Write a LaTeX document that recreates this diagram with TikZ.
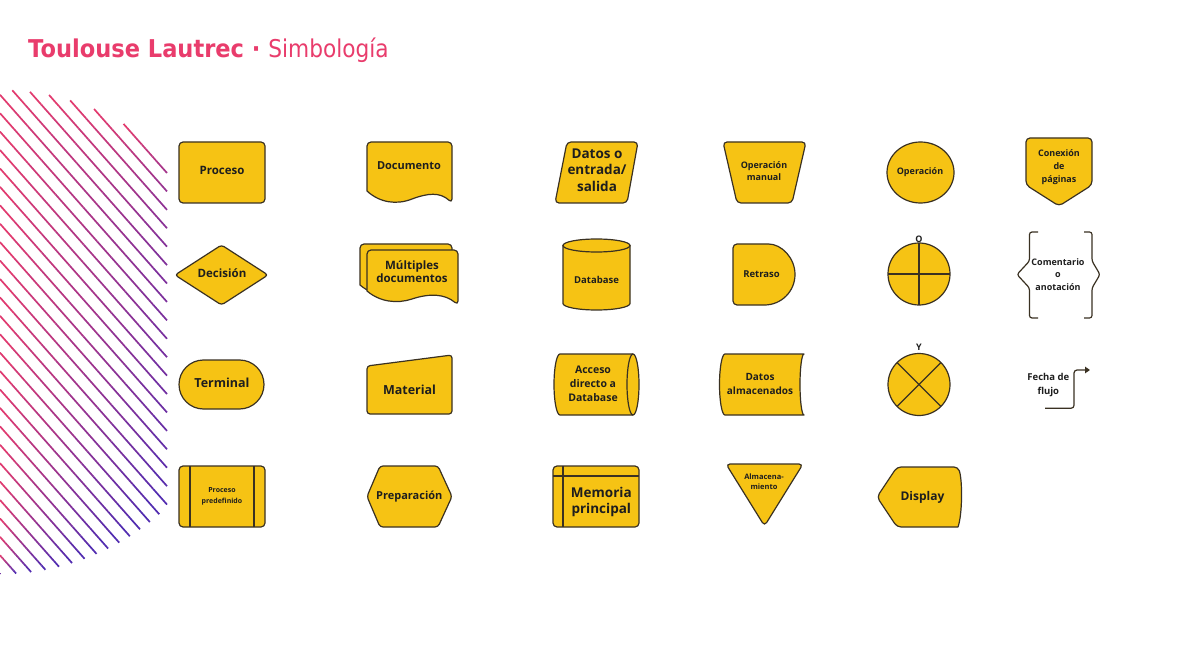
\documentclass[tikz,border=0pt]{standalone}
\usepackage{fontspec}
\usepackage{graphicx}
\setmainfont{Open Sans}
\newfontfamily\titlefont{DejaVu Sans}
\usetikzlibrary{arrows.meta}

\definecolor{symfill}{HTML}{F6C314}
\definecolor{symline}{HTML}{3A3122}
\definecolor{labelcol}{HTML}{1E1E1E}
\definecolor{titlecol}{HTML}{E93C6C}
\definecolor{stripeA}{HTML}{E63B6D}
\definecolor{stripeB}{HTML}{4A2BB3}

\tikzset{
  sym/.style={fill=symfill, draw=symline, line width=1.2pt, line join=round},
  rc/.style={rounded corners=#1}, rc/.default=4pt,
  divider/.style={draw=symline, line width=1.2pt},
  brace/.style={draw=symline, line width=1.2pt, rounded corners=2.5pt},
  flow/.style={draw=symline, line width=1.2pt, rounded corners=3pt,
               -{Triangle[length=5pt,width=6.5pt]}},
  lbl/.style n args={2}{inner sep=0pt, align=center, text=labelcol,
                        font=\bfseries\fontsize{#1}{#2}\selectfont},
  stripe/.style={line width=1.7pt},
}

\begin{document}
\begin{tikzpicture}[x=1pt, y=-1pt]
\fill[white] (0,0) rectangle (1183,660);
\useasboundingbox (0,0) rectangle (1183,660);

% ---- title ----
\node[anchor=base west, inner sep=0pt, text=titlecol,
      font=\titlefont\fontsize{24.5}{28}\selectfont] (title) at (28,58)
  {\scalebox{0.92}[1]{\bfseries Toulouse Lautrec\ ·\ }\scalebox{0.885}[1]{Simbología}};

% ---- striped disc on the left edge ----
% lines y = s (x - a) inside a disc of radius 242 centred at (0,332),
% shown for 0 <= x <= 167; each line fades from pink to purple along
% its chord, measured from its visible start to where it leaves the disc
\def\stS{1.13}
\foreach \i in {0,...,37} {
  \pgfmathsetmacro\stInt{-556.6+\i*16.3}
  \pgfmathsetmacro\stB{(-\stS*\stInt-332)/10}
  \pgfmathsetmacro\stQ{2*\stS*\stB}
  \pgfmathsetmacro\stC{\stB*\stB-24.2*24.2}
  \pgfmathsetmacro\stD{max(\stQ*\stQ-4*2.2769*\stC,0)}
  \pgfmathsetmacro\stX{max(10*(-\stQ-sqrt(\stD))/4.5538,0)}
  \pgfmathsetmacro\stY{10*(-\stQ+sqrt(\stD))/4.5538}
  \pgfmathsetmacro\stE{min(\stY,167)}
  \ifdim\stE pt>\stX pt
    \foreach \k in {0,...,11} {
      \pgfmathsetmacro\stU{\stX+(\stE-\stX)*\k/12}
      \pgfmathsetmacro\stV{\stX+(\stE-\stX)*(\k+1)/12}
      \pgfmathsetmacro\stP{min(100*((\stU+\stV)/2-\stX)/(\stY-\stX),100)}
      \draw[stripe, color=stripeB!\stP!stripeA]
        (\stU,{\stS*(\stU-\stInt)}) -- (\stV,{\stS*(\stV-\stInt)});
    }
  \fi
}

% ---- row 1 ----
% process
\draw[sym, rc] (179,142) rectangle (265,203);
\node[lbl={11.5}{14}] (proceso) at (222,170.5) {Proceso};

% document
\draw[sym] (367,191) [rounded corners=4pt] -- (367,142) -- (452,142) -- (452,203) [sharp corners]
  .. controls (440,192) and (428,193) .. (412,199)
  .. controls (397,205) and (380,203) .. (367,191) -- cycle;
\node[lbl={11}{13}] (documento) at (409,165.5) {Documento};

% data / input-output
\draw[sym, rc] (567,142) -- (638,142) -- (627,203) -- (555,203) -- cycle;
\node[lbl={13.5}{16.7}] (datos) at (597,170) {Datos o\\entrada/\\salida};

% manual operation
\draw[sym, rc] (723,142) -- (806,142) -- (792,203) -- (737,203) -- cycle;
\node[lbl={9}{12}] (opmanual) at (764,171) {Operación\\manual};

% operation
\draw[sym] (920.5,172.5) ellipse [x radius=33.5, y radius=30.5];
\node[lbl={9}{11}] (operacion) at (920,172) {Operación};

% off-page connector
\draw[sym, rc] (1026,138) -- (1092,138) -- (1092,185) -- (1059,206) -- (1026,185) -- cycle;
\node[lbl={9}{13}] (conexion) at (1059,167.5) {Conexión\\de\\páginas};

% ---- row 2 ----
% decision
\draw[sym, rc=3pt] (175,275) -- (221.5,245) -- (268,275) -- (221.5,305) -- cycle;
\node[lbl={11.5}{14}] (decision) at (222,273.5) {Decisión};

% multiple documents
\draw[sym] (360,285) [rounded corners=4pt] -- (360,244) -- (452,244) -- (452,299) [sharp corners]
  .. controls (439,288) and (424,287) .. (405,293)
  .. controls (390,298) and (373,296) .. (360,285) -- cycle;
\draw[sym] (367,291) [rounded corners=4pt] -- (367,250) -- (458,250) -- (458,305) [sharp corners]
  .. controls (445,294) and (430,293) .. (412,299)
  .. controls (397,304) and (380,302) .. (367,291) -- cycle;
\node[lbl={11.5}{13.3}] (multiples) at (412,272) {Múltiples\\documentos};

% database
\draw[sym] (563,245.5) -- (563,303.5)
  arc[start angle=180, end angle=0, x radius=33.5, y radius=6.5] -- (630,245.5) -- cycle;
\draw[sym] (596.5,245.5) ellipse [x radius=33.5, y radius=6.5];
\node[lbl={9.5}{12}] (database) at (596.5,279.5) {Database};

% delay
\draw[sym] (764.5,244) arc[start angle=-90, end angle=90, radius=30.5]
  [rounded corners=4pt] -- (733,305) -- (733,244) -- cycle;
\node[lbl={9.5}{12}] (retraso) at (761.5,273.7) {Retraso};

% or
\draw[sym] (919,274) circle[radius=31];
\draw[divider] (919,243) -- (919,305) (888,274) -- (950,274);
\node[lbl={9}{11}] (olabel) at (919,238.8) {O};

% comment / annotation
\draw[brace] (1038,232) -- (1029.5,232) -- (1029.5,261) -- (1017,274.5)
  -- (1029.5,288) -- (1029.5,318) -- (1038,318);
\draw[brace] (1084,232) -- (1092,232) -- (1092,261) -- (1100,274.5)
  -- (1092,288) -- (1092,318) -- (1084,318);
\node[lbl={9}{12.8}] (comentario) at (1058,274.5) {Comentario\\o\\anotación};

% ---- row 3 ----
% terminal
\draw[sym, rounded corners=24.5pt] (179,360) rectangle (264,409);
\node[lbl={12.5}{15}] (terminal) at (222,383.2) {Terminal};

% manual input
\draw[sym, rc=3pt] (367,366) -- (452,355) -- (452,414) -- (367,414) -- cycle;
\node[lbl={12.5}{15}] (material) at (409.5,390) {Material};

% direct access storage
\draw[sym] (560,354) -- (633,354)
  arc[start angle=-90, end angle=90, x radius=6, y radius=30.5] -- (560,415)
  arc[start angle=90, end angle=270, x radius=6, y radius=30.5] -- cycle;
\draw[divider] (633,354) arc[start angle=270, end angle=90, x radius=6, y radius=30.5];
\node[lbl={10.5}{14.2}] (acceso) at (593,384) {Acceso\\directo a\\Database};

% stored data
\draw[sym] (725,354) -- (804,354)
  arc[start angle=-90, end angle=-270, x radius=4, y radius=30.5] -- (725,415)
  arc[start angle=90, end angle=270, x radius=5.5, y radius=30.5] -- cycle;
\node[lbl={10}{13.6}] (almacenados) at (760,384) {Datos\\almacenados};

% and
\draw[sym] (919,384.5) circle[radius=31];
\draw[divider] (897.1,362.6) -- (940.9,406.4) (940.9,362.6) -- (897.1,406.4);
\node[lbl={9}{11}] (ylabel) at (919,347.5) {Y};

% flow line
\node[lbl={9.5}{13.3}] (fecha) at (1048.3,385) {Fecha de\\flujo};
\coordinate (flowstart) at (1045,408.3);
\coordinate (flowturn) at (1074,389);
\coordinate (flowend) at (1090,370);
\draw[flow] (flowstart) -| (flowturn) |- (flowend);

% ---- row 4 ----
% predefined process
\draw[sym, rc] (179,466) rectangle (265,527);
\draw[divider] (190,466) -- (190,527) (254,466) -- (254,527);
\node[lbl={7}{11}] (predef) at (222,496.3) {Proceso\\predefinido};

% preparation
\draw[sym, rc=3pt] (367,496.5) -- (380,466) -- (438,466) -- (452,496.5) -- (438,527) -- (380,527) -- cycle;
\node[lbl={11}{13}] (preparacion) at (409.3,497) {Preparación};

% internal storage
\draw[sym, rc] (553,466) rectangle (639,527);
\draw[divider] (553,476) -- (639,476) (563,466) -- (563,527);
\node[lbl={13.5}{16}] (memoria) at (601.3,501.5) {Memoria\\principal};

% storage
\draw[sym, rc] (726,464) -- (803,464) -- (764.5,526) -- cycle;
\node[lbl={7.5}{10}] (almacenamiento) at (764,481.2) {Almacena-\\miento};

% display
\draw[sym] (958,527) [rounded corners=4pt] -- (897,527) -- (877,497) -- (897,467) -- (958,467) [sharp corners]
  .. controls (962.5,480) and (962.5,514) .. (958,527) -- cycle;
\node[lbl={12}{14}] (display) at (922.5,497.6) {Display};

\end{tikzpicture}
\end{document}
